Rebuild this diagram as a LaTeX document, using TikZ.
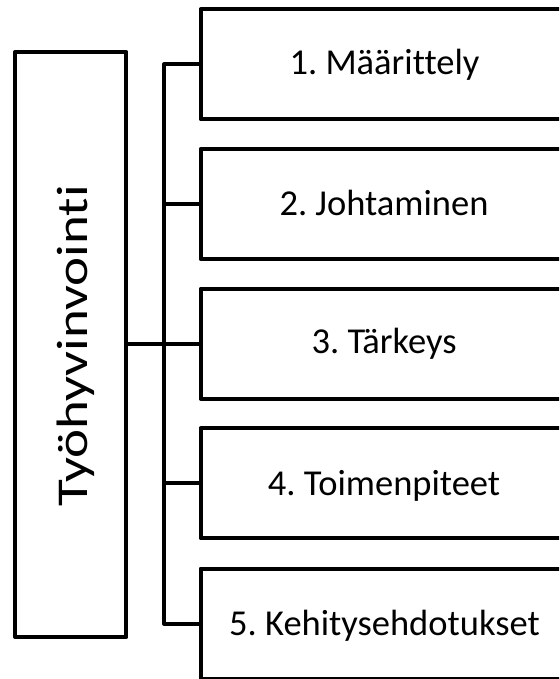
\documentclass[tikz,border=0pt]{standalone}
\usepackage{fontspec}
\setmainfont{Carlito}[Ligatures=NoCommon]
\frenchspacing
\begin{document}
\begin{tikzpicture}[x=1pt,y=-1pt,
  frame/.style={draw=black,line width=4pt,line join=round,inner sep=0pt},
  item/.style={frame,minimum width=367pt,minimum height=110pt},
  lbl/.style={font=\fontsize{36.5}{44}\selectfont\frenchspacing,anchor=base,inner sep=0pt},
  biglbl/.style={font=\fontsize{44}{53}\selectfont,anchor=base,inner sep=0pt},
  link/.style={draw=black,line width=4pt,line join=round}]
\useasboundingbox (0,0) rectangle (559,679);
\clip (0,0) rectangle (559,679);
\fill[white] (0,0) rectangle (559,679);

% tall root box on the left
\node[frame,minimum width=111.3pt,minimum height=585pt] (root) at (70.7,344.5) {};

% the five topic boxes, running off the right edge
\foreach \i/\y in {1/64.5,2/204.1,3/343.7,4/483.4,5/623.5}
  \node[item] (b\i) at (384,\y) {};

% connectors: trunk from box 1 down to box 5, with side branches
\coordinate (trunk) at (163.7,0);
\draw[link] (b1.west) -| (trunk |- b5.west) -- (b5.west);
\foreach \i in {2,3,4}
  \draw[link] (trunk |- b\i.west) -- (b\i.west);
\draw[link] (root.east |- b3.west) -- (b3.west);

% labels; the vertical one is drawn stretched along its reading direction
\node[biglbl,rotate=90] (troot) at (87,346) {\scalebox{1.25}[1]{Työhyvinvointi}};
\node[lbl] (t1) at (384.5,75) {1. Määrittely};
\node[lbl] (t2) at (384,215) {2. Johtaminen};
\node[lbl] (t3) at (384,353.5) {3. Tärkeys};
\node[lbl] (t4) at (384,495) {4. Toimenpiteet};
\node[lbl] (t5) at (384.5,635) {5. Kehitysehdotukset};
\end{tikzpicture}
\end{document}
